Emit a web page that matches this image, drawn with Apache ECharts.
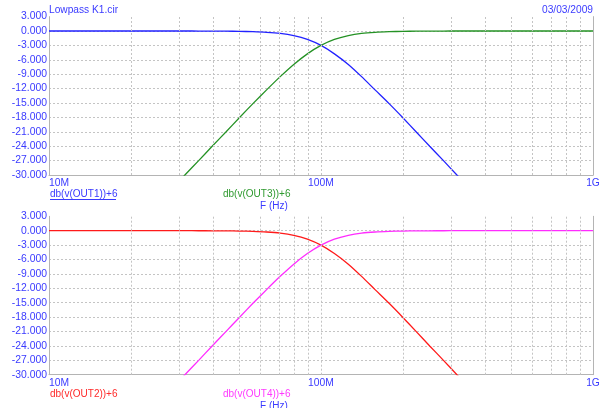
<!DOCTYPE html>
<html>
<head>
<meta charset="utf-8">
<script src="https://cdn.jsdelivr.net/npm/echarts@6/dist/echarts.min.js"></script>
<style>
html,body{margin:0;padding:0;background:#fff;}
#c{width:608px;height:408px;}
</style>
</head>
<body>
<div id="c"></div>
<script>
// ---- data ----
const titleText = 'Lowpass K1.cir';
const dateText = '03/03/2009';
const freqHz = [1.00e7,1.12e7,1.26e7,1.41e7,1.58e7,1.78e7,2.00e7,2.24e7,2.51e7,2.82e7,
  3.16e7,3.55e7,3.98e7,4.47e7,5.01e7,5.62e7,6.31e7,7.08e7,7.94e7,8.91e7,
  1.00e8,1.12e8,1.26e8,1.41e8,1.58e8,1.78e8,2.00e8,2.24e8,2.51e8,2.82e8,
  3.16e8,3.55e8,3.98e8,4.47e8,5.01e8,5.62e8,6.31e8,7.08e8,7.94e8,8.91e8,1.00e9];
// dB values; null = below visible range
const out1 = [0.00,0.00,0.00,0.00,0.00,0.00,0.00,0.00,0.00,0.00,
  0.00,-0.01,-0.02,-0.03,-0.07,-0.14,-0.27,-0.51,-0.97,-1.76,
  -3.01,-4.76,-6.97,-9.51,-12.27,-15.13,-18.07,-21.03,-24.01,-27.01,
  -30.00,-33.00,null,null,null,null,null,null,null,null,null];
const out3 = [null,null,null,null,null,null,null,null,null,-33.00,
  -30.00,-27.01,-24.01,-21.03,-18.07,-15.13,-12.27,-9.51,-6.97,-4.76,
  -3.01,-1.76,-0.97,-0.51,-0.27,-0.14,-0.07,-0.03,-0.02,-0.01,
  0.00,0.00,0.00,0.00,0.00,0.00,0.00,0.00,0.00,0.00,0.00];
const out2 = [0.00,0.00,0.00,0.00,0.00,0.00,0.00,0.00,0.00,0.00,
  0.00,-0.01,-0.02,-0.03,-0.07,-0.14,-0.27,-0.51,-0.97,-1.76,
  -3.01,-4.76,-6.97,-9.51,-12.27,-15.13,-18.07,-21.03,-24.01,-27.01,
  -30.00,-33.00,null,null,null,null,null,null,null,null,null];
const out4 = [null,null,null,null,null,null,null,null,null,-33.00,
  -30.00,-27.01,-24.01,-21.03,-18.07,-15.13,-12.27,-9.51,-6.97,-4.76,
  -3.01,-1.76,-0.97,-0.51,-0.27,-0.14,-0.07,-0.03,-0.02,-0.01,
  0.00,0.00,0.00,0.00,0.00,0.00,0.00,0.00,0.00,0.00,0.00];
const xTickValues = [1e7, 1e8, 1e9];
const xTickLabels = ['10M', '100M', '1G'];
const xGridValues = [2e7,3e7,4e7,5e7,6e7,7e7,8e7,9e7,1e8,2e8,3e8,4e8,5e8,6e8,7e8,8e8,9e8];
const yMin = -30, yMax = 3, yStep = 3;
const traceNames = ['db(v(OUT1))+6','db(v(OUT3))+6','db(v(OUT2))+6','db(v(OUT4))+6'];
const xTitle = 'F (Hz)';

// ---- chart ----
const FONT = 'Liberation Sans, Arial, sans-serif';
const TXT_BLUE = '#3a3aff';
const GRID_C = '#c4c4c4';
const BORDER_C = '#b4b4b4';
const pairs = (vals) => freqHz.map((f, i) => [f, vals[i]]);

const grids = [
  {left: 49, top: 16.6, width: 544, height: 158.4},
  {left: 49, top: 216.3, width: 544, height: 158.4}
];

function xAx(gi) {
  return {
    type: 'log', logBase: 10, gridIndex: gi, min: 1e7, max: 1e9,
    axisLine: {show: true, onZero: false, lineStyle: {color: BORDER_C, width: 1}},
    axisTick: {show: false},
    splitLine: {show: false},
    axisLabel: {
      show: true, margin: 3, color: TXT_BLUE, fontFamily: FONT, fontSize: 10.3,
      alignMinLabel: 'left',
      formatter: (v) => {
        const k = xTickValues.findIndex(t => Math.abs(Math.log10(t) - Math.log10(v)) < 1e-6);
        return k >= 0 ? xTickLabels[k] : '';
      }
    }
  };
}
function yAx(gi) {
  return {
    type: 'value', gridIndex: gi, min: yMin, max: yMax, interval: yStep,
    axisLine: {show: true, lineStyle: {color: BORDER_C, width: 1}},
    axisTick: {show: false},
    splitLine: {show: true, showMaxLine: false, showMinLine: false,
      lineStyle: {color: GRID_C, type: [2, 2], width: 1}},
    axisLabel: {margin: 2, color: TXT_BLUE, fontFamily: FONT, fontSize: 10.4,
      formatter: (v) => v.toFixed(3)}
  };
}
function yAxRight(gi) {
  return {
    type: 'value', gridIndex: gi, min: yMin, max: yMax, position: 'right',
    axisLine: {show: true, lineStyle: {color: BORDER_C, width: 1}},
    axisTick: {show: false}, axisLabel: {show: false}, splitLine: {show: false}
  };
}
function vGrid() {
  return {
    silent: true, symbol: 'none', animation: false,
    label: {show: false},
    lineStyle: {color: GRID_C, type: [2, 2], width: 1},
    data: xGridValues.map(v => ({xAxis: v}))
  };
}
function line(name, vals, color, xi, yi, withGrid) {
  const s = {
    name, type: 'line', xAxisIndex: xi, yAxisIndex: yi,
    data: pairs(vals), showSymbol: false, symbol: 'none', smooth: 0.25,
    clip: true, animation: false,
    lineStyle: {color, width: 1.3}, itemStyle: {color}
  };
  if (withGrid) s.markLine = vGrid();
  return s;
}

const textStyle = (color, size) => ({fill: color, font: `${size || 10}px ${FONT}`});

const option = {
  backgroundColor: '#ffffff',
  animation: false,
  grid: grids,
  xAxis: [xAx(0), xAx(1)],
  yAxis: [yAx(0), yAx(1), yAxRight(0), yAxRight(1)],
  series: [
    line(traceNames[0], out1, '#2222ff', 0, 0, true),
    line(traceNames[1], out3, '#259225', 0, 0, false),
    line(traceNames[2], out2, '#ff1a1a', 1, 1, true),
    line(traceNames[3], out4, '#ff2cff', 1, 1, false)
  ],
  graphic: [
    {type: 'text', left: 49, top: 5, style: Object.assign({text: titleText}, textStyle(TXT_BLUE, 10.2))},
    {type: 'text', right: 15, top: 5, style: Object.assign({text: dateText}, textStyle(TXT_BLUE, 10.2))},
    {type: 'text', left: 50, top: 189, style: Object.assign({text: traceNames[0]}, textStyle('#3a3aff'))},
    {type: 'line', shape: {x1: 50, y1: 199.5, x2: 116, y2: 199.5}, style: {stroke: '#3a3aff', lineWidth: 1}},
    {type: 'text', left: 223, top: 189, style: Object.assign({text: traceNames[1]}, textStyle('#2f9a2f'))},
    {type: 'text', left: 260, top: 201, style: Object.assign({text: xTitle}, textStyle(TXT_BLUE))},
    {type: 'text', left: 50, top: 389, style: Object.assign({text: traceNames[2]}, textStyle('#ff2a2a'))},
    {type: 'text', left: 223, top: 389, style: Object.assign({text: traceNames[3]}, textStyle('#ff3aff'))},
    {type: 'text', left: 260, top: 401, style: Object.assign({text: xTitle}, textStyle(TXT_BLUE))}
  ]
};

const chart = echarts.init(document.getElementById('c'), null, {renderer: 'canvas'});
chart.setOption(option);
</script>
</body>
</html>
